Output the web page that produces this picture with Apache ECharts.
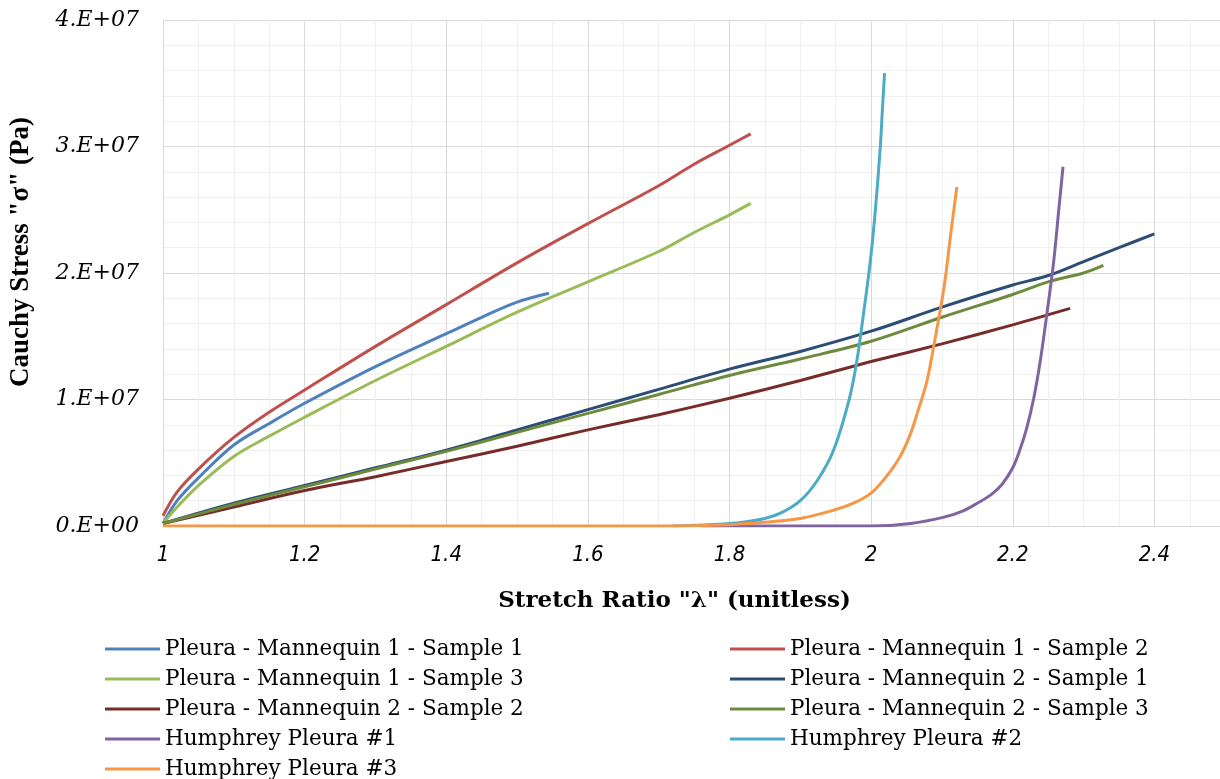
<!DOCTYPE html>
<html>
<head>
<meta charset="utf-8">
<title>Cauchy stress vs stretch ratio</title>
<script src="https://cdn.jsdelivr.net/npm/echarts@6/dist/echarts.min.js"></script>
<style>
  html, body { margin: 0; padding: 0; background: #fff; overflow: hidden; }
  /* wider than the window: the plot runs past the right edge like the original crop */
  #chart { width: 1296px; height: 779px; }
</style>
</head>
<body>
<div id="chart"></div>
<script>
// stretch ratio λ, stress in units of 1e7 Pa
const m1s1 = [[1.0,0.02],[1.02,0.2],[1.05,0.38],[1.1,0.64],[1.15,0.81],[1.2,0.97],[1.3,1.26],[1.4,1.52],[1.45,1.65],[1.5,1.77],[1.545,1.84]];
const m1s2 = [[1.0,0.08],[1.02,0.27],[1.05,0.45],[1.1,0.70],[1.15,0.90],[1.2,1.075],[1.3,1.42],[1.4,1.75],[1.5,2.08],[1.6,2.39],[1.7,2.69],[1.75,2.86],[1.8,3.01],[1.83,3.10]];
const m1s3 = [[1.0,0.02],[1.02,0.15],[1.05,0.32],[1.1,0.55],[1.15,0.71],[1.2,0.86],[1.3,1.15],[1.4,1.42],[1.5,1.69],[1.6,1.93],[1.7,2.17],[1.75,2.32],[1.8,2.46],[1.83,2.55]];
const m2s1 = [[1.0,0.02],[1.1,0.18],[1.2,0.32],[1.3,0.46],[1.4,0.60],[1.5,0.76],[1.6,0.92],[1.7,1.08],[1.8,1.24],[1.9,1.38],[2.0,1.54],[2.1,1.73],[2.2,1.905],[2.25,1.98],[2.3,2.09],[2.35,2.20],[2.4,2.31]];
const m2s2 = [[1.0,0.02],[1.1,0.15],[1.2,0.28],[1.3,0.39],[1.4,0.51],[1.5,0.63],[1.6,0.76],[1.7,0.88],[1.8,1.01],[1.9,1.15],[2.0,1.30],[2.1,1.44],[2.2,1.59],[2.281,1.72]];
const m2s3 = [[1.0,0.02],[1.1,0.17],[1.2,0.31],[1.3,0.45],[1.4,0.59],[1.5,0.74],[1.6,0.89],[1.7,1.04],[1.8,1.19],[1.9,1.32],[2.0,1.46],[2.1,1.65],[2.2,1.83],[2.25,1.93],[2.3,2.0],[2.328,2.06]];
const hum1 = [[1.76,0],[2.0,0.0],[2.056,0.02],[2.103,0.07],[2.13,0.12],[2.15,0.18],[2.17,0.25],[2.185,0.33],[2.2,0.46],[2.21,0.6],[2.22,0.78],[2.23,1.02],[2.239,1.31],[2.249,1.71],[2.258,2.10],[2.265,2.50],[2.271,2.84]];
const hum2 = [[1.72,0],[1.8,0.02],[1.85,0.06],[1.875,0.11],[1.9,0.2],[1.924,0.36],[1.947,0.6],[1.969,1.0],[1.98,1.31],[1.99,1.71],[1.999,2.10],[2.006,2.50],[2.013,3.0],[2.016,3.3],[2.019,3.58]];
const hum3 = [[1.0,0],[1.7,0],[1.8,0.01],[1.85,0.03],[1.9,0.06],[1.95,0.13],[1.975,0.18],[2.0,0.26],[2.02,0.38],[2.041,0.55],[2.055,0.72],[2.065,0.89],[2.079,1.15],[2.089,1.44],[2.103,1.89],[2.112,2.29],[2.121,2.68]];

const names = [
  "Pleura - Mannequin 1 - Sample 1",
  "Pleura - Mannequin 1 - Sample 2",
  "Pleura - Mannequin 1 - Sample 3",
  "Pleura - Mannequin 2 - Sample 1",
  "Pleura - Mannequin 2 - Sample 2",
  "Pleura - Mannequin 2 - Sample 3",
  "Humphrey Pleura #1",
  "Humphrey Pleura #2",
  "Humphrey Pleura #3",
];
const seriesData = [m1s1, m1s2, m1s3, m2s1, m2s2, m2s3, hum1, hum2, hum3];
const colors = ["#4F81BD", "#C0504D", "#9BBB59", "#2C4D75", "#772C2A", "#6E8B3D", "#8064A2", "#4BACC6", "#F79646"];
const SCALE = 1e7;

const chart = echarts.init(document.getElementById("chart"));

const legendStyle = {
  orient: "vertical",
  icon: "rect",
  itemWidth: 55,
  itemHeight: 3,
  itemGap: 8,
  padding: 0,
  height: 200,
  textStyle: {
    fontFamily: "DejaVu Serif",
    fontSize: 21.5,
    color: "#000",
    lineHeight: 20,
  },
};

const option = {
  animation: false,
  color: colors,
  grid: {
    left: 162,
    top: 20,
    right: 0,
    bottom: 253,
  },
  legend: [
    Object.assign({ left: 105, top: 638, data: [names[0], names[2], names[4], names[6], names[8]] }, legendStyle),
    Object.assign({ left: 730, top: 638, data: [names[1], names[3], names[5], names[7]] }, legendStyle),
  ],
  xAxis: {
    type: "value",
    min: 1,
    max: 2.6,
    interval: 0.2,
    name: 'Stretch Ratio "λ" (unitless)',
    nameLocation: "middle",
    nameGap: 64,
    nameTextStyle: {
      fontFamily: "DejaVu Serif",
      fontWeight: "bold",
      fontSize: 23,
      color: "#000",
      padding: [0, 110, 0, 0],
    },
    axisLine: { show: true, lineStyle: { color: "#d9d9d9", width: 1 } },
    axisTick: { show: false },
    axisLabel: {
      margin: 18,
      fontFamily: "'Liberation Sans Narrow', 'DejaVu Sans Condensed', sans-serif",
      fontStyle: "italic",
      fontSize: 22,
      color: "#000",
      showMaxLabel: false,
    },
    splitLine: { show: true, lineStyle: { color: "#d9d9d9" } },
    minorTick: { show: false, splitNumber: 4 },
    minorSplitLine: { show: true, lineStyle: { color: "#f0f0f0" } },
  },
  yAxis: {
    type: "value",
    min: 0,
    max: 4 * SCALE,
    interval: SCALE,
    name: 'Cauchy Stress "σ" (Pa)',
    nameLocation: "middle",
    nameGap: 128,
    nameTextStyle: {
      fontFamily: "Liberation Serif",
      fontWeight: "bold",
      fontSize: 27,
      color: "#000",
      padding: [0, 0, 0, 42],
    },
    axisLine: { show: true, lineStyle: { color: "#d9d9d9", width: 1 } },
    axisTick: { show: false },
    axisLabel: {
      margin: 24,
      fontFamily: "DejaVu Serif",
      fontStyle: "italic",
      fontSize: 22,
      color: "#000",
      formatter: (v) => (v === 0 ? "0.E+00" : v / SCALE + ".E+07"),
    },
    splitLine: { show: true, lineStyle: { color: "#d9d9d9" } },
    minorTick: { show: false, splitNumber: 5 },
    minorSplitLine: { show: true, lineStyle: { color: "#f0f0f0" } },
  },
  series: seriesData.map((d, i) => ({
    name: names[i],
    type: "line",
    data: d.map((p) => [p[0], p[1] * SCALE]),
    showSymbol: false,
    smooth: 0.35,
    lineStyle: { width: 3, color: colors[i] },
    itemStyle: { color: colors[i] },
  })),
};

chart.setOption(option);
</script>
</body>
</html>
